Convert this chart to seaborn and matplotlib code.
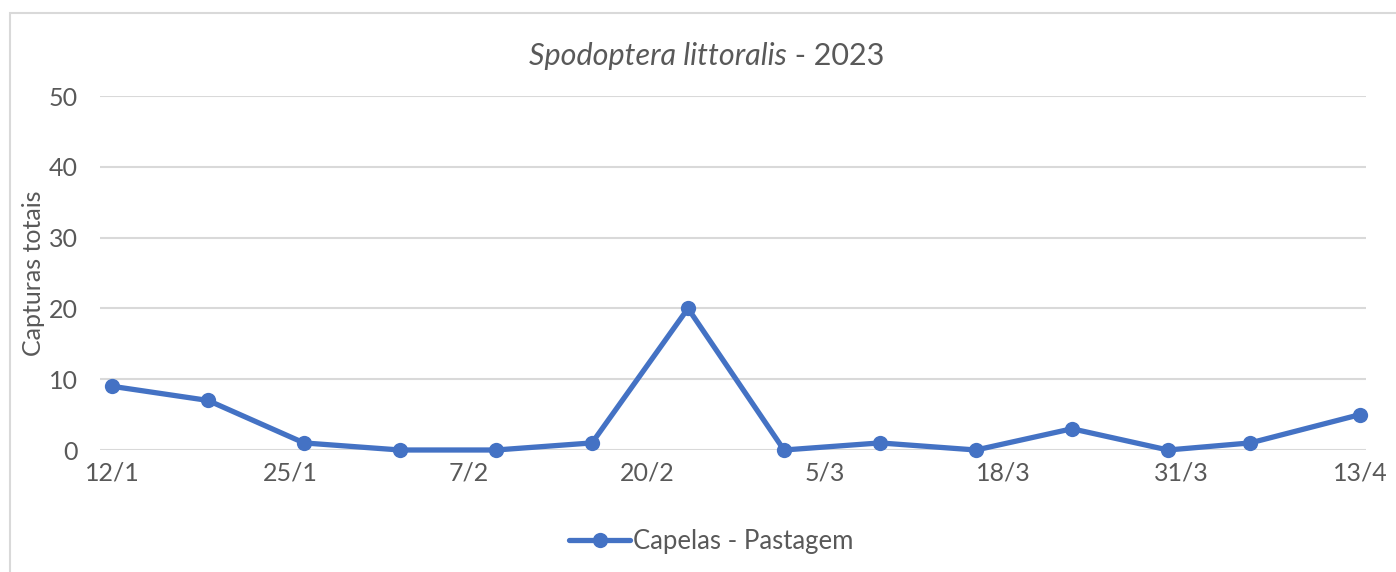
import matplotlib
matplotlib.use("Agg")
import matplotlib.pyplot as plt
import matplotlib.dates as mdates
from matplotlib.patches import Rectangle
import seaborn as sns
import pandas as pd
import numpy as np

# ---- data ----
dates = ["2023-01-12", "2023-01-19", "2023-01-26", "2023-02-02", "2023-02-09",
         "2023-02-16", "2023-02-23", "2023-03-02", "2023-03-09", "2023-03-16",
         "2023-03-23", "2023-03-30", "2023-04-05", "2023-04-13"]
captures = [9, 7, 1, 0, 0, 1, 20, 0, 1, 0, 3, 0, 1, 5]
series_name = "Capelas - Pastagem"
tick_dates = ["2023-01-12", "2023-01-25", "2023-02-07", "2023-02-20",
              "2023-03-05", "2023-03-18", "2023-03-31", "2023-04-13"]
tick_labels = ["12/1", "25/1", "7/2", "20/2", "5/3", "18/3", "31/3", "13/4"]
y_ticks = [0, 10, 20, 30, 40, 50]
title_italic = "Spodoptera littoralis"
title_rest = " - 2023"
y_label = "Capturas totais"

df = pd.DataFrame({"Data": pd.to_datetime(dates), "Capturas": captures,
                   "Série": series_name})

sns.set_theme(style="white")
plt.rcParams["font.family"] = ["Lato", "DejaVu Sans"]
TXT = "#595959"
BLUE = "#4472C4"
GRID = "#D9D9D9"
FS = 18

W, H = 1396, 572
fig = plt.figure(figsize=(W / 100, H / 100), dpi=100)
ax = fig.add_axes([100 / W, 1 - 450 / H, (1366 - 100) / W, (450 - 96) / H])

sns.lineplot(data=df, x="Data", y="Capturas", hue="Série", palette=[BLUE],
             marker="o", markersize=11, markeredgewidth=0, linewidth=3.8,
             ax=ax, legend=False)
for ln in ax.lines:
    ln.set_clip_on(False)

x0 = mdates.date2num(pd.Timestamp("2023-01-12"))
x1 = mdates.date2num(pd.Timestamp("2023-04-13"))
ppd = (1360 - 112) / (x1 - x0)
ax.set_xlim(x0 - 12 / ppd, x1 + 6 / ppd)
ax.set_ylim(0, 50)
ax.set_yticks(y_ticks)
ax.set_yticklabels([str(v) for v in y_ticks], fontsize=FS, color=TXT)
ax.set_xticks([mdates.date2num(pd.Timestamp(d)) for d in tick_dates])
ax.set_xticklabels(tick_labels, fontsize=FS, color=TXT)
ax.tick_params(axis="both", length=0)
ax.tick_params(axis="y", pad=16)
ax.tick_params(axis="x", pad=8)
ax.yaxis.grid(True, color=GRID, linewidth=1.5)
ax.xaxis.grid(False)
ax.set_axisbelow(True)
for s in ax.spines.values():
    s.set_visible(False)
ax.set_xlabel("")
ax.set_ylabel(y_label, fontsize=FS, color=TXT, labelpad=6)
ax.yaxis.set_label_coords(-55 / (1366 - 100), 0.5)

# legend
handle = plt.Line2D([], [], color=BLUE, linewidth=3.8, marker="o",
                    markersize=11, markeredgewidth=0)
fig.legend([handle], [series_name], loc="center", bbox_to_anchor=(711 / W, 1 - 541 / H),
           frameon=False, fontsize=18.5, labelcolor=TXT, handlelength=2.4,
           handletextpad=0.1)

# title: italic part + regular part, centered together
fig.canvas.draw()
r = fig.canvas.get_renderer()
t1 = fig.text(0, 1 - 56 / H, title_italic, fontsize=22, style="italic",
              color=TXT, va="center", ha="left")
t2 = fig.text(0, 1 - 56 / H, title_rest, fontsize=22, color=TXT,
              va="center", ha="left")
w1 = t1.get_window_extent(r).width
w2 = t2.get_window_extent(r).width
start = 707 - (w1 + w2) / 2
t1.set_x(start / W)
t2.set_x((start + w1) / W)

# chart border (only left and top visible)
fig.patches.append(Rectangle((10 / W, -0.1), 1.2, 1 - 13 / H + 0.1,
                             transform=fig.transFigure, fill=False,
                             edgecolor=GRID, linewidth=1.5))

fig.savefig("out.png", dpi=100)
